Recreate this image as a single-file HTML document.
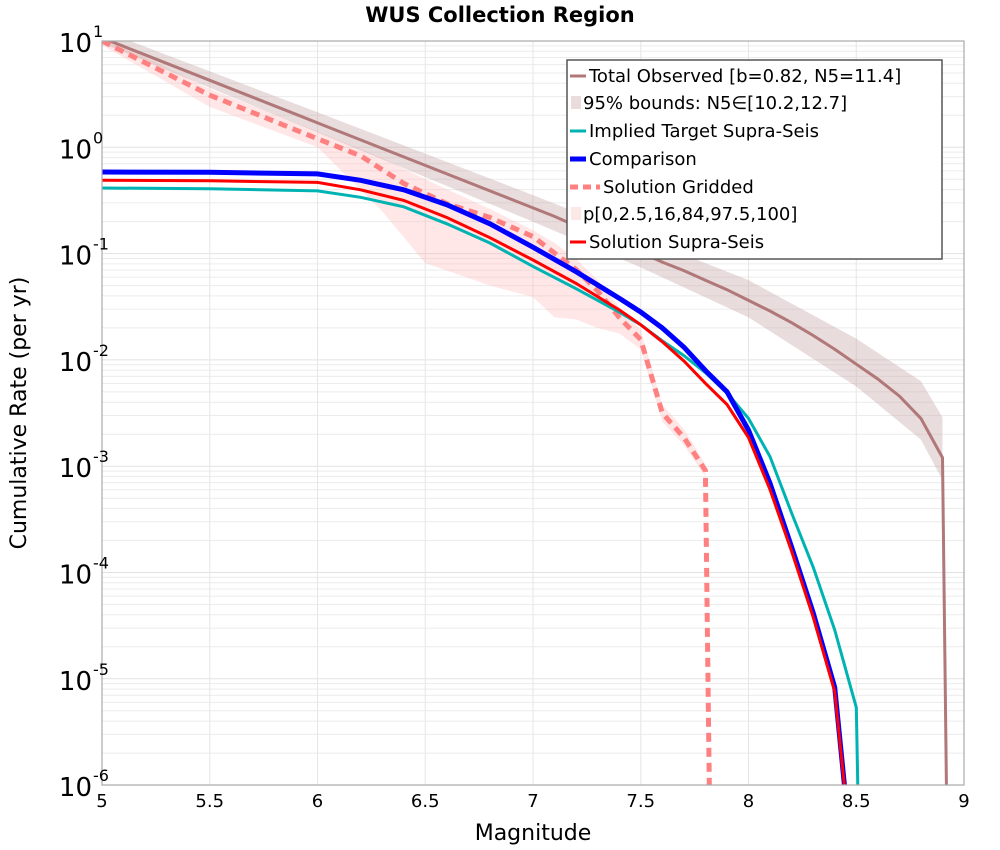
<!DOCTYPE html>
<html><head><meta charset="utf-8"><style>
body{margin:0;background:#fff;}
svg{display:block;font-family:"DejaVu Sans","Liberation Sans",sans-serif;}
</style></head><body>
<svg id="chart" width="1000" height="850">
<defs><clipPath id="clip"><rect x="102" y="41" width="862" height="744"/></clipPath></defs>
<rect x="0" y="0" width="1000" height="850" fill="#fff"/>
<g id="grid"></g>
<g id="series" clip-path="url(#clip)"></g>
<rect x="102" y="41" width="862" height="744" fill="none" stroke="#aaa" stroke-width="1.2"/>
<g id="axes"></g>
<text x="500" y="22" text-anchor="middle" font-weight="bold" font-size="21">WUS Collection Region</text>
<text x="533" y="840" text-anchor="middle" font-size="22">Magnitude</text>
<text transform="translate(26,413) rotate(-90)" text-anchor="middle" font-size="22">Cumulative Rate (per yr)</text>
<g id="legend">
<rect x="567" y="60" width="375" height="199" fill="#fff" stroke="#555" stroke-width="1.5"/>
<line x1="570" y1="76" x2="586" y2="76" stroke="#b07878" stroke-width="3"/>
<text x="589" y="82" font-size="18">Total Observed [b=0.82, N5=11.4]</text>
<rect x="571" y="96" width="10" height="13" fill="#e8dcdc"/>
<text x="583" y="109" font-size="18">95% bounds: N5∈[10.2,12.7]</text>
<line x1="570" y1="131" x2="586" y2="131" stroke="#00b3b3" stroke-width="3"/>
<text x="589" y="137" font-size="18">Implied Target Supra-Seis</text>
<line x1="570" y1="159" x2="586" y2="159" stroke="#0000ff" stroke-width="5"/>
<text x="589" y="165" font-size="18">Comparison</text>
<line x1="570" y1="187" x2="600" y2="187" stroke="#ff8080" stroke-width="5" stroke-dasharray="8,5"/>
<text x="603" y="193" font-size="18">Solution Gridded</text>
<rect x="571" y="207" width="10" height="13" fill="#fde8e8"/>
<text x="583" y="220" font-size="18">p[0,2.5,16,84,97.5,100]</text>
<line x1="570" y1="242" x2="586" y2="242" stroke="#ff0000" stroke-width="3"/>
<text x="589" y="248" font-size="18">Solution Supra-Seis</text>
</g>
</svg>
<script>
// data (log10 of rate)
const xTicks=[5,5.5,6,6.5,7,7.5,8,8.5,9];
const xTickLabels=["5","5.5","6","6.5","7","7.5","8","8.5","9"];
const yDecades=[1,0,-1,-2,-3,-4,-5,-6];
const totalM=[5,5.1,5.2,5.3,5.4,5.5,5.6,5.7,5.8,5.9,6,6.1,6.2,6.3,6.4,6.5,6.6,6.7,6.8,6.9,7,7.1,7.2,7.3,7.4,7.5,7.6,7.7,7.8,7.9,8,8.1,8.2,8.3,8.4,8.5,8.6,8.7,8.8,8.9,8.92];
const totalV=[1.03,0.95,0.87,0.79,0.71,0.63,0.55,0.47,0.39,0.31,0.23,0.15,0.07,-0.01,-0.09,-0.17,-0.25,-0.33,-0.41,-0.49,-0.57,-0.65,-0.74,-0.82,-0.91,-0.99,-1.08,-1.16,-1.25,-1.34,-1.44,-1.54,-1.65,-1.77,-1.9,-2.04,-2.18,-2.34,-2.55,-2.92,-6.3];
const totBandM=[5,6,7,7.5,8,8.5,8.8,8.9];
const totBandHi=[1.1,0.33,-0.45,-0.85,-1.25,-1.8,-2.2,-2.54];
const totBandLo=[0.98,0.14,-0.7,-1.13,-1.6,-2.25,-2.75,-3.13];
const gridBandM=[5,5.5,6,6.3,6.5,6.8,7.0,7.1,7.2,7.3,7.4,7.5,7.6,7.7,7.8];
const gridBandHi=[1.05,0.55,0.15,-0.1,-0.3,-0.58,-0.78,-0.9,-1.05,-1.25,-1.5,-1.72,-2.42,-2.65,-2.98];
const gridBandLo=[0.96,0.38,0.0,-0.6,-1.09,-1.3,-1.41,-1.6,-1.62,-1.7,-1.75,-1.9,-2.58,-2.8,-3.1];
const gridM=[5,5.5,6,6.2,6.4,6.6,6.8,7.0,7.2,7.3,7.4,7.5,7.6,7.7,7.8,7.82];
const gridV=[1.0,0.49,0.08,-0.08,-0.34,-0.53,-0.66,-0.84,-1.15,-1.35,-1.6,-1.81,-2.5,-2.73,-3.04,-6.3];
const curveM=[5,5.5,6,6.2,6.4,6.6,6.8,7.0,7.2,7.4,7.5,7.6,7.7,7.8,7.9,8.0,8.1,8.2,8.3,8.4,8.46];
const compV=[-0.232,-0.235,-0.25,-0.31,-0.40,-0.54,-0.72,-0.94,-1.17,-1.42,-1.55,-1.70,-1.88,-2.10,-2.30,-2.66,-3.16,-3.76,-4.38,-5.08,-6.3];
const solV=[-0.31,-0.315,-0.33,-0.40,-0.50,-0.66,-0.85,-1.06,-1.28,-1.53,-1.67,-1.83,-2.01,-2.22,-2.42,-2.73,-3.22,-3.80,-4.42,-5.12,-6.3];
const targM=[5,5.5,6,6.2,6.4,6.6,6.8,7.0,7.2,7.4,7.5,7.6,7.7,7.8,7.9,8.0,8.1,8.2,8.3,8.4,8.5,8.51];
const targV=[-0.383,-0.39,-0.41,-0.47,-0.56,-0.72,-0.90,-1.12,-1.33,-1.55,-1.67,-1.82,-1.96,-2.12,-2.31,-2.55,-2.91,-3.44,-3.95,-4.54,-5.27,-6.3];

const NS="http://www.w3.org/2000/svg";
const X=m=>102+(m-5)*215.5;
const Y=l=>41+(1-l)*106.3;
function mk(tag,attrs,parent){const e=document.createElementNS(NS,tag);for(const k in attrs)e.setAttribute(k,attrs[k]);parent.appendChild(e);return e;}
const grid=document.getElementById('grid'),ser=document.getElementById('series'),axes=document.getElementById('axes');
for(let d=1;d>-6;d--){for(let k=2;k<=9;k++){const y=Y(d-1+Math.log10(k));
 const l=mk('line',{x1:102,x2:964,y1:y,y2:y,stroke:'#ececec','stroke-width':1},grid);
 
 }}
yDecades.forEach(d=>{const y=Y(d);
 const l=mk('line',{x1:102,x2:964,y1:y,y2:y,stroke:'#e2e2e2','stroke-width':1},grid);
 
 
 const t=mk('text',{x:92,y:y+11,'text-anchor':'end','font-size':26},axes);
 
 
 t.textContent='10';
 const s=mk('text',{x:93,y:y-4,'font-size':16},axes);
 
 
 s.textContent=(d<0?'-':'')+Math.abs(d);});
xTicks.forEach((m,i)=>{const x=X(m);
 const l=mk('line',{x1:x,x2:x,y1:41,y2:785,stroke:'#e6e6e6','stroke-width':1},grid);
 
 
 const t=mk('text',{x:x,y:807,'text-anchor':'middle','font-size':18},axes);
 
 
 t.textContent=xTickLabels[i];});
function pts(ms,vs){return ms.map((m,i)=>X(m).toFixed(1)+','+Y(vs[i]).toFixed(1)).join(' ');}
function band(ms,hi,lo){return ms.map((m,i)=>X(m)+','+Y(hi[i])).concat(ms.slice().reverse().map((m,j)=>{const i=ms.length-1-j;return X(m)+','+Y(lo[i]);})).join(' ');}
let e=mk('polygon',{points:band(gridBandM,gridBandHi,gridBandLo),fill:'#ffb0b0','fill-opacity':0.3},ser);


e=mk('polygon',{points:band(totBandM,totBandHi,totBandLo),fill:'#c8a8a8','fill-opacity':0.4},ser);


e=mk('polyline',{points:pts(totalM,totalV),fill:'none',stroke:'#b07878','stroke-width':3},ser);


e=mk('polyline',{points:pts(gridM,gridV),fill:'none',stroke:'#ff8080','stroke-width':5,'stroke-dasharray':'9,6'},ser);


e=mk('polyline',{points:pts(targM,targV),fill:'none',stroke:'#00b3b3','stroke-width':3},ser);


e=mk('polyline',{points:pts(curveM,compV),fill:'none',stroke:'#0000ff','stroke-width':5},ser);


e=mk('polyline',{points:pts(curveM,solV),fill:'none',stroke:'#ff0000','stroke-width':3},ser);


</script>
</body></html>
